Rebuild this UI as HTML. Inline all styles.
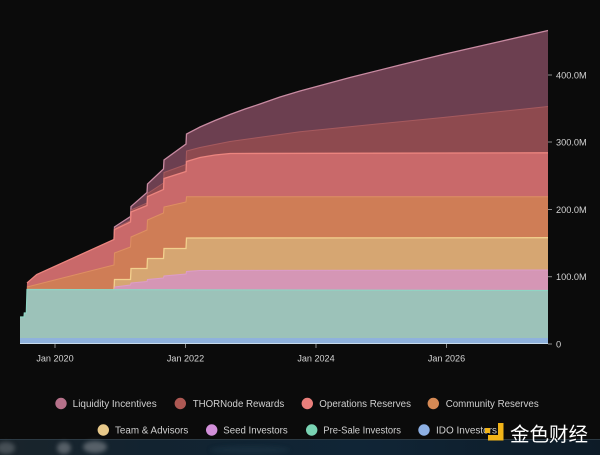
<!DOCTYPE html>
<html><head><meta charset="utf-8">
<style>
html,body{margin:0;padding:0;background:#0b0b0b;}
svg{display:block;}
.ax{font-family:"Liberation Sans",sans-serif;font-size:9.3px;fill:#d4d4d4;}
.lg{font-family:"Liberation Sans",sans-serif;font-size:9.8px;fill:#d0d0d0;}
</style></head>
<body>
<svg width="600" height="455" viewBox="0 0 600 455" xmlns="http://www.w3.org/2000/svg">
<defs>
<linearGradient id="strip" x1="0" y1="0" x2="1" y2="0">
<stop offset="0" stop-color="#1a242b"/>
<stop offset="0.25" stop-color="#122330"/>
<stop offset="0.6" stop-color="#102536"/>
<stop offset="1" stop-color="#0d1b27"/>
</linearGradient>
<filter id="bl" x="-50%" y="-50%" width="200%" height="200%"><feGaussianBlur stdDeviation="2"/></filter>
</defs>
<rect x="0" y="0" width="600" height="455" fill="#0b0b0b"/>

<!-- Liquidity Incentives -->
<polygon fill="#6c3f50" points="20,344 20,317 24,317 24.3,313 26.3,313 27,283 36.7,274.5 114,239.5 114.5,227 130.5,216.5 131,206.5 147,192.5 147.5,184 163.5,169 164,160 186,144 186.5,134 200,127 215,120.5 230,114.5 245,109 260,104 280,97 300,91 350,77.5 400,65 443,54.5 500,41.5 548,30.5 548,344"/>
<polyline fill="none" stroke="#c98ba2" stroke-width="1.3" points="114,239.5 114.5,227 130.5,216.5 131,206.5 147,192.5 147.5,184 163.5,169 164,160 186,144 186.5,134 200,127 215,120.5 230,114.5 245,109 260,104 280,97 300,91 350,77.5 400,65 443,54.5 500,41.5 548,30.5"/>

<!-- THORNode Rewards -->
<polygon fill="#8e4a4f" points="20,344 20,317 24,317 24.3,313 26.3,313 27,283 36.7,274.5 114,239.5 114.5,228.5 130.5,220.5 131,210 147,203 147.5,193.5 163.5,183 164,172.5 186,164.5 186.5,151 200,147.5 230,141.5 300,131.7 443,117.5 548,106.5 548,344"/>
<polyline fill="none" stroke="#a65a5e" stroke-width="1" points="114.5,228.5 130.5,220.5 131,210 147,203 147.5,193.5 163.5,183 164,172.5 186,164.5 186.5,151 200,147.5 230,141.5 300,131.7 443,117.5 548,106.5"/>

<!-- Operations Reserves -->
<polygon fill="#c9696a" points="20,344 20,317 24,317 24.3,313 26.3,313 27,283 36.7,274.5 114,239.5 114.5,229.5 130.5,222 131,212 147,205.5 147.5,196.5 163.5,189.5 164,178.5 186,171.5 186.5,161.5 200,157.5 215,155 230,153.5 548,152.8 548,344"/>
<polyline fill="none" stroke="#ec857f" stroke-width="1.3" points="27,283 36.7,274.5 114,239.5 114.5,229.5 130.5,222 131,212 147,205.5 147.5,196.5 163.5,189.5 164,178.5 186,171.5 186.5,161.5 200,157.5 215,155 230,153.5 548,152.8"/>

<!-- Community Reserves -->
<polygon fill="#cf7d56" points="20,344 20,317 24,317 24.3,313 26.3,313 27,287 114,265 114.5,253 130.5,247 131,237 147,230 147.5,220 163.5,213 164,207 186,202 186.5,196.7 548,196.7 548,344"/>
<polyline fill="none" stroke="#de8f62" stroke-width="1" points="27,287 114,265 114.5,253 130.5,247 131,237 147,230 147.5,220 163.5,213 164,207 186,202 186.5,196.7 548,196.7"/>

<!-- Team & Advisors -->
<polygon fill="#d6a672" points="20,344 20,317 24,317 24.3,313 26.3,313 27,289.5 114,289.5 114.5,279.5 130.5,279.5 131,268.5 147,268.5 147.5,258.5 163.5,258.5 164,248.5 186,248.5 186.5,238 548,237.7 548,344"/>
<polyline fill="none" stroke="#f2d08e" stroke-width="1.3" points="114,289.5 114.5,279.5 130.5,279.5 131,268.5 147,268.5 147.5,258.5 163.5,258.5 164,248.5 186,248.5 186.5,238 548,237.7"/>

<!-- Seed Investors -->
<polygon fill="#d596b5" points="20,344 20,317 24,317 24.3,313 26.3,313 27,289.5 114,289.5 114.5,287 130.5,285 131,283 147,281.5 147.5,279.5 163.5,278 164,276 186,274 186.5,271.5 200,270.5 548,270 548,344"/>
<polyline fill="none" stroke="#dc9cc8" stroke-width="1" points="114.5,287 130.5,285 131,283 147,281.5 147.5,279.5 163.5,278 164,276 186,274 186.5,271.5 200,270.5 548,270"/>

<!-- Pre-Sale Investors -->
<polygon fill="#9cc2b9" points="20,344 20,317 24,317 24.3,313 26.3,313 27,289.5 548,290.5 548,344"/>
<polyline fill="none" stroke="#8fd5c4" stroke-width="1.2" points="20,317 24,317 24.3,313 26.3,313 27,289.5 548,290.5"/>

<!-- IDO Investors -->
<polygon fill="#8fb2dd" points="20,344 20,338 548,338 548,344"/>
<line x1="20" y1="343.5" x2="548" y2="343.5" stroke="#c8dced" stroke-width="1"/>

<!-- y axis ticks & labels -->
<g stroke="#8a8a8a" stroke-width="1">
<line x1="548" y1="75" x2="552" y2="75"/>
<line x1="548" y1="142" x2="552" y2="142"/>
<line x1="548" y1="209.5" x2="552" y2="209.5"/>
<line x1="548" y1="276.7" x2="552" y2="276.7"/>
<line x1="548" y1="344" x2="552" y2="344"/>
</g>
<text class="ax" x="556" y="78.3" textLength="30.7" lengthAdjust="spacingAndGlyphs">400.0M</text>
<text class="ax" x="556" y="145.3" textLength="30.7" lengthAdjust="spacingAndGlyphs">300.0M</text>
<text class="ax" x="556" y="212.8" textLength="30.7" lengthAdjust="spacingAndGlyphs">200.0M</text>
<text class="ax" x="556" y="280" textLength="30.7" lengthAdjust="spacingAndGlyphs">100.0M</text>
<text class="ax" x="556" y="347.5">0</text>

<!-- x axis ticks & labels -->
<g stroke="#8a8a8a" stroke-width="1">
<line x1="55" y1="344" x2="55" y2="348"/>
<line x1="185.5" y1="344" x2="185.5" y2="348"/>
<line x1="316" y1="344" x2="316" y2="348"/>
<line x1="446.5" y1="344" x2="446.5" y2="348"/>
</g>
<text class="ax" x="55" y="361.5" text-anchor="middle" textLength="37.3" lengthAdjust="spacingAndGlyphs">Jan 2020</text>
<text class="ax" x="185.5" y="361.5" text-anchor="middle" textLength="37.3" lengthAdjust="spacingAndGlyphs">Jan 2022</text>
<text class="ax" x="316" y="361.5" text-anchor="middle" textLength="37.3" lengthAdjust="spacingAndGlyphs">Jan 2024</text>
<text class="ax" x="446.5" y="361.5" text-anchor="middle" textLength="37.3" lengthAdjust="spacingAndGlyphs">Jan 2026</text>

<!-- legend row 1 -->
<circle cx="61" cy="403.5" r="5.7" fill="#b6718a"/>
<text class="lg" x="72.7" y="407" textLength="84" lengthAdjust="spacingAndGlyphs">Liquidity Incentives</text>
<circle cx="180.3" cy="403.5" r="5.7" fill="#ad5853"/>
<text class="lg" x="192.7" y="407" textLength="91.6" lengthAdjust="spacingAndGlyphs">THORNode Rewards</text>
<circle cx="307.3" cy="403.5" r="5.7" fill="#ea7f7b"/>
<text class="lg" x="319.3" y="407" textLength="91.7" lengthAdjust="spacingAndGlyphs">Operations Reserves</text>
<circle cx="433.3" cy="403.5" r="5.7" fill="#d68a55"/>
<text class="lg" x="445.7" y="407" textLength="93" lengthAdjust="spacingAndGlyphs">Community Reserves</text>

<!-- legend row 2 -->
<circle cx="103.3" cy="430" r="5.7" fill="#e8c98a"/>
<text class="lg" x="115" y="433.5" textLength="73.3" lengthAdjust="spacingAndGlyphs">Team &amp; Advisors</text>
<circle cx="211.7" cy="430" r="5.7" fill="#d28fd9"/>
<text class="lg" x="223.3" y="433.5" textLength="64.4" lengthAdjust="spacingAndGlyphs">Seed Investors</text>
<circle cx="311.7" cy="430" r="5.7" fill="#79d3b3"/>
<text class="lg" x="323.3" y="433.5" textLength="77.7" lengthAdjust="spacingAndGlyphs">Pre-Sale Investors</text>
<circle cx="424" cy="430" r="5.7" fill="#8db0e4"/>
<text class="lg" x="436" y="433.5" textLength="61" lengthAdjust="spacingAndGlyphs">IDO Investors</text>

<!-- bottom image strip -->
<rect x="0" y="439" width="600" height="16" fill="url(#strip)"/>
<line x1="0" y1="439.5" x2="600" y2="439.5" stroke="#2c3a44" stroke-width="1"/>
<g filter="url(#bl)" opacity="0.55">
<ellipse cx="6" cy="448" rx="9" ry="6" fill="#6b7278"/>
<ellipse cx="64" cy="448" rx="7" ry="6" fill="#8a9096"/>
<ellipse cx="95" cy="447" rx="12" ry="6" fill="#8d9399"/>
<ellipse cx="250" cy="450" rx="40" ry="4" fill="#1b3444"/>
</g>

<!-- watermark -->
<g fill="#f2b418">
<rect x="485" y="428" width="5" height="5"/>
<rect x="498" y="423" width="5.5" height="17.5"/>
<rect x="488" y="435" width="15" height="5.5"/>
</g>
<text x="510" y="441" font-family="'Liberation Sans','Noto Sans CJK SC',sans-serif" font-size="19.5" fill="#ffffff" textLength="78" lengthAdjust="spacingAndGlyphs">金色财经</text>
</svg>
</body></html>
